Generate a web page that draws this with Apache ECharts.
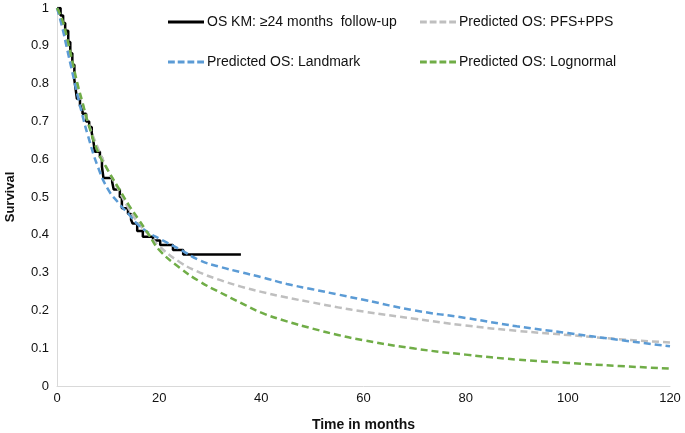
<!DOCTYPE html>
<html>
<head>
<meta charset="utf-8">
<script src="https://cdn.jsdelivr.net/npm/echarts@6/dist/echarts.min.js"></script>
<style>
html,body{margin:0;padding:0;background:#fff;}
#chart{width:685px;height:433px;}
</style>
</head>
<body>
<div id="chart"></div>
<script>
// Kaplan-Meier observed OS (time in months, survival after event)
const kmTime = [0, 0.7, 1.2, 1.6, 2.2, 2.6, 3.0, 3.4, 3.7, 3.9, 4.5, 5.0, 5.7, 6.3, 6.8, 7.1, 7.4, 8.4, 8.8, 9.1, 10.8, 11.1, 12.3, 12.7, 13.9, 14.5, 14.8, 15.7, 16.8, 18.8, 20.2, 22.7, 24.7, 36];
const kmSurv = [1.0, 0.98, 0.96, 0.94, 0.91, 0.88, 0.85, 0.81, 0.78, 0.76, 0.74, 0.72, 0.70, 0.685, 0.67, 0.65, 0.62, 0.605, 0.58, 0.55, 0.54, 0.52, 0.50, 0.47, 0.455, 0.44, 0.43, 0.41, 0.395, 0.385, 0.373, 0.36, 0.348, 0.348];

// Predicted curves
const predTime  = [0, 1, 2, 3, 4, 5, 6, 8, 10, 12, 14, 16, 18, 20, 24, 28, 32, 36, 40, 45, 50, 55, 60, 70, 80, 90, 100, 110, 120];
const landmark  = [1.0, 0.95, 0.89, 0.83, 0.77, 0.715, 0.665, 0.58, 0.52, 0.485, 0.455, 0.425, 0.405, 0.39, 0.362, 0.332, 0.315, 0.301, 0.288, 0.27, 0.256, 0.242, 0.228, 0.2, 0.18, 0.158, 0.14, 0.122, 0.105];
const pfsPps    = [1.0, 0.96, 0.9, 0.845, 0.79, 0.745, 0.7, 0.63, 0.57, 0.52, 0.47, 0.43, 0.4, 0.37, 0.328, 0.3, 0.28, 0.263, 0.249, 0.234, 0.221, 0.208, 0.197, 0.178, 0.16, 0.146, 0.135, 0.124, 0.115];
const lognormal = [1.0, 0.97, 0.92, 0.86, 0.8, 0.75, 0.70, 0.62, 0.57, 0.525, 0.48, 0.44, 0.40, 0.36, 0.313, 0.276, 0.247, 0.22, 0.194, 0.171, 0.152, 0.135, 0.121, 0.099, 0.083, 0.07, 0.061, 0.053, 0.046];

const names = {
  km: 'OS KM: \u226524 months  follow-up',
  pfs: 'Predicted OS: PFS+PPS',
  lm: 'Predicted OS: Landmark',
  ln: 'Predicted OS: Lognormal'
};

const zip = (xs, ys) => xs.map((x, i) => [x, ys[i]]);
const font = '"Liberation Sans", Arial, sans-serif';
const dash = [7, 4];
const solidIcon = 'path://M0,0h37v3h-37z';
const dashIcon = 'path://M0,0h7v3h-7z M10,0h7v3h-7z M20,0h7v3h-7z M30,0h7v3h-7z';

const chart = echarts.init(document.getElementById('chart'));
const legendCommon = {
  orient: 'vertical',
  top: 10,
  itemWidth: 36,
  itemHeight: 14,
  itemGap: 26,
  textStyle: { fontFamily: font, fontSize: 14, color: '#111', padding: [0, 0, 0, -2] },
  selectedMode: false
};
chart.setOption({
  animation: false,
  backgroundColor: '#fff',
  legend: [
    Object.assign({}, legendCommon, { left: 163, data: [{ name: names.km, icon: solidIcon }, { name: names.lm, icon: dashIcon }] }),
    Object.assign({}, legendCommon, { left: 415, data: [{ name: names.pfs, icon: dashIcon }, { name: names.ln, icon: dashIcon }] })
  ],
  grid: { left: 57, right: 15, top: 8, bottom: 47, containLabel: false, outerBoundsMode: 'none' },
  xAxis: {
    type: 'value', min: 0, max: 120, interval: 20,
    name: 'Time in months', nameLocation: 'middle', nameGap: 32,
    nameTextStyle: { fontFamily: font, fontSize: 14, fontWeight: 'bold', color: '#111' },
    axisLine: { lineStyle: { color: '#d9d9d9', width: 1 } },
    axisTick: { show: false },
    splitLine: { show: false },
    axisLabel: { fontFamily: font, fontSize: 13, color: '#111', margin: 6 }
  },
  yAxis: {
    type: 'value', min: 0, max: 1, interval: 0.1,
    name: 'Survival', nameLocation: 'middle', nameGap: 40, nameRotate: 90,
    nameTextStyle: { fontFamily: font, fontSize: 13, fontWeight: 'bold', color: '#111' },
    axisLine: { show: true, lineStyle: { color: '#d9d9d9', width: 1 } },
    axisTick: { show: false },
    splitLine: { show: false },
    axisLabel: { fontFamily: font, fontSize: 13, color: '#111', margin: 8 }
  },
  series: [
    { name: names.km, type: 'line', step: 'end', symbol: 'none', data: zip(kmTime, kmSurv),
      lineStyle: { color: '#000', width: 2.5 }, itemStyle: { color: '#000' }, z: 2 },
    { name: names.pfs, type: 'line', smooth: true, symbol: 'none', data: zip(predTime, pfsPps),
      lineStyle: { color: '#bfbfbf', width: 2.5, type: dash }, itemStyle: { color: '#bfbfbf' }, z: 3 },
    { name: names.lm, type: 'line', smooth: true, symbol: 'none', data: zip(predTime, landmark),
      lineStyle: { color: '#5b9bd5', width: 2.5, type: dash }, itemStyle: { color: '#5b9bd5' }, z: 4 },
    { name: names.ln, type: 'line', smooth: true, symbol: 'none', data: zip(predTime, lognormal),
      lineStyle: { color: '#70ad47', width: 2.5, type: dash }, itemStyle: { color: '#70ad47' }, z: 5 }
  ]
});
</script>
</body>
</html>
